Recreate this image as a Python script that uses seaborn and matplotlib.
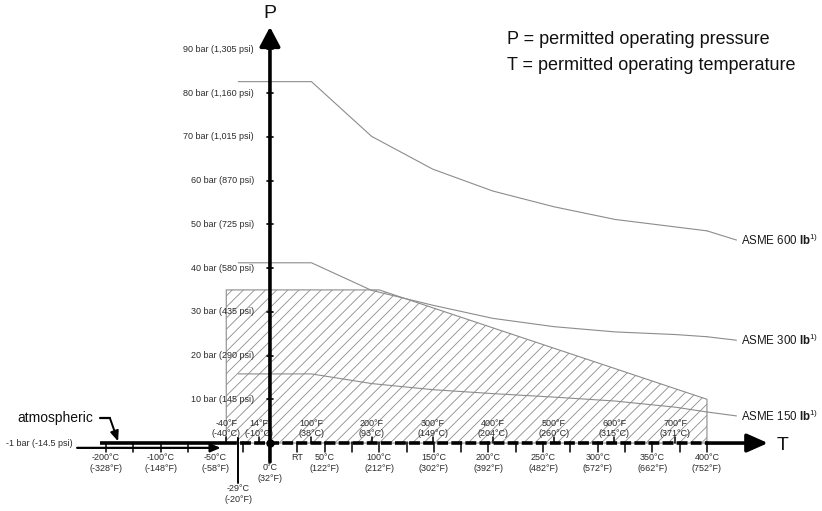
import numpy as np
import pandas as pd
import matplotlib
matplotlib.use("Agg")
import matplotlib.pyplot as plt
import seaborn as sns

# --- data ----------------------------------------------------------------
t_asme = [-29, 38, 93, 149, 204, 260, 316, 371, 400]      # degC
p_600 = [82.6, 82.6, 70.1, 62.6, 57.6, 54.0, 51.1, 49.4, 48.5]  # bar
p_300 = [41.2, 41.2, 34.9, 31.5, 28.5, 26.6, 25.4, 24.8, 24.3]
p_150 = [15.8, 15.8, 13.6, 12.2, 11.3, 10.5, 9.6, 8.2, 7.1]
ratings = ["ASME 600", "ASME 300", "ASME 150"]

# permitted (hatched) range of the device
t_hatch = [-40, 100, 400]
p_hatch = [35, 35, 10]

# pressure axis
p_ticks = [10, 20, 30, 40, 50, 60, 70, 80, 90]
p_labels = ["10 bar (145 psi)", "20 bar (290 psi)", "30 bar (435 psi)",
            "40 bar (580 psi)", "50 bar (725 psi)", "60 bar (870 psi)",
            "70 bar (1,015 psi)", "80 bar (1,160 psi)", "90 bar (1,305 psi)"]

# temperature axis, degC below / degF above
c_ticks = [-200, -100, -50, 50, 100, 150, 200, 250, 300, 350, 400]
c_labels = ["-200°C\n(-328°F)", "-100°C\n(-148°F)", "-50°C\n(-58°F)",
            "50°C\n(122°F)", "100°C\n(212°F)", "150°C\n(302°F)",
            "200°C\n(392°F)", "250°C\n(482°F)", "300°C\n(572°F)",
            "350°C\n(662°F)", "400°C\n(752°F)"]
c_minor = [-25, 25, 75, 125, 175, 225, 275, 325, 375]
c_left_ticks = [-200, -150, -100, -75]
f_ticks = [-40, -10, 38, 93, 149, 204, 260, 315, 371]
f_labels = ["-40°F\n(-40°C)", "14°F\n(-10°C)", "100°F\n(38°C)",
            "200°F\n(93°C)", "300°F\n(149°C)", "400°F\n(204°C)",
            "500°F\n(260°C)", "600°F\n(315°C)", "700°F\n(371°C)"]

df = pd.DataFrame({
    "T": t_asme * 3,
    "P": p_600 + p_300 + p_150,
    "rating": [r for r in ratings for _ in t_asme],
})

# --- style ------------------------------------------------------------------
sns.set_theme(style="white")
plt.rcParams["font.family"] = ["Liberation Sans", "DejaVu Sans"]
plt.rcParams["hatch.linewidth"] = 0.6
plt.rcParams["hatch.color"] = "#8c8c8c"
plt.rcParams["mathtext.fontset"] = "custom"
plt.rcParams["mathtext.rm"] = "Liberation Sans"
plt.rcParams["mathtext.bf"] = "Liberation Sans:bold"
TXT = "#2b2b2b"
GREY = "#8c8c8c"


def fwd(t):
    # the axis is squeezed to half scale below -100 degC
    t = np.asarray(t, dtype=float)
    return np.where(t < -100, -100 + (t + 100) / 2, t)


def inv(u):
    u = np.asarray(u, dtype=float)
    return np.where(u < -100, -100 + 2 * (u + 100), u)


fig = plt.figure(figsize=(8.22, 5.11), dpi=100)
ax = fig.add_axes([0, 0, 1, 1])
ax.set_xscale("function", functions=(fwd, inv))
ax.set_xlim(-394.2, 505.3)
ax.set_ylim(-15.53, 101.26)
ax.axis("off")

# hatched region
ax.fill_between(t_hatch, p_hatch, 0, facecolor="none", edgecolor=GREY,
                hatch="///", lw=0.8, zorder=1)

# rating curves
sns.lineplot(data=df, x="T", y="P", units="rating", estimator=None,
             sort=False, color=GREY, lw=0.8, ax=ax, legend=False, zorder=2)

# curve labels with leaders
label_pos = {"ASME 600": 46.4, "ASME 300": 23.5, "ASME 150": 6.2}
for name, pend in zip(ratings, [p_600[-1], p_300[-1], p_150[-1]]):
    ax.annotate("", xy=(t_asme[-1], pend), xytext=(427, label_pos[name]),
                arrowprops=dict(arrowstyle="-", color=GREY, lw=0.8,
                                shrinkA=0, shrinkB=0))
    ax.text(431, label_pos[name], name + r" $\mathbf{lb}^{1)}$",
            fontsize=8.3, color="#1a1a1a", va="center", ha="left")

# pressure axis
ax.annotate("", xy=(0, 95.1), xytext=(0, -4.3),
            arrowprops=dict(arrowstyle="-|>,head_length=0.85,head_width=0.45",
                            mutation_scale=14, lw=2.6, color="black",
                            shrinkA=0, shrinkB=0), zorder=5)
ax.text(0, 98.2, "P", fontsize=14, ha="center", va="center", color="#111")
for p, lab in zip(p_ticks, p_labels):
    ax.plot([-3, 3], [p, p], color="black", lw=1.2, zorder=5)
    ax.text(-14.6, p, lab, fontsize=6.5, ha="right", va="center", color=TXT)

# temperature axis (0 bar line)
ax.plot([-211, -40], [0, 0], color="black", lw=2.6, solid_capstyle="butt",
        zorder=4)
ax.plot([-40, 400], [0, 0], color="black", lw=2.6, ls=(0, (3, 0.9)),
        zorder=4)
ax.annotate("", xy=(455.8, 0), xytext=(400, 0),
            arrowprops=dict(arrowstyle="-|>,head_length=0.9,head_width=0.4",
                            mutation_scale=14, lw=2.6, color="black",
                            shrinkA=0, shrinkB=0), zorder=5)
ax.text(469, -0.6, "T", fontsize=14, ha="center", va="center", color="#111")
ax.plot([0], [0], "o", color="black", ms=5, zorder=6)

# -1 bar line with its arrow
ax.text(-260.6, -0.2, "-1 bar (-14.5 psi)", fontsize=6.5, ha="right",
        va="center", color=TXT)
ax.annotate("", xy=(-45, -1.1), xytext=(-253, -1.1),
            arrowprops=dict(arrowstyle="-|>,head_length=0.6,head_width=0.25",
                            mutation_scale=10, lw=1.6, color="black",
                            shrinkA=0, shrinkB=0), zorder=4)
for t in c_left_ticks:
    ax.plot([t, t], [0, -2.1], color="black", lw=1.1, zorder=4)

# degC ticks and labels
for t, lab in zip(c_ticks, c_labels):
    if t > -40:
        ax.plot([t, t], [0.2, -2.1], color="black", lw=1.1, zorder=4)
    ax.text(t, -2.3, lab, fontsize=6.5, ha="center", va="top", color=TXT,
            linespacing=1.25)
for t in c_minor:
    ax.plot([t, t], [0.2, -2.1], color="black", lw=1.1, zorder=4)
ax.text(25, -2.3, "RT", fontsize=6.5, ha="center", va="top", color=TXT)
ax.text(0, -4.6, "0°C\n(32°F)", fontsize=6.5, ha="center", va="top",
        color=TXT, linespacing=1.25)
ax.plot([-29, -29], [1.1, -9.1], color="black", lw=1.4, zorder=4)
ax.text(-29, -9.4, "-29°C\n(-20°F)", fontsize=6.5, ha="center", va="top",
        color=TXT, linespacing=1.25)

# degF ticks and labels
for t, lab in zip(f_ticks, f_labels):
    ax.plot([t, t], [0, 1.4], color="black", lw=1.1, zorder=4)
    ax.text(t, 1.1, lab, fontsize=6.5, ha="center", va="bottom", color=TXT,
            linespacing=1.15)

# atmospheric note
ax.text(-363, 5.7, "atmospheric", fontsize=10, ha="left", va="center",
        color="#111")
ax.plot([-211, -193], [5.7, 5.7], color="black", lw=1.6)
ax.annotate("", xy=(-178, 0.4), xytext=(-193, 5.7),
            arrowprops=dict(arrowstyle="-|>,head_length=0.6,head_width=0.25",
                            mutation_scale=10, lw=1.4, color="black",
                            shrinkA=0, shrinkB=0))

# legend text
fig.text(507 / 822, 1 - 39 / 511, "P = permitted operating pressure",
         fontsize=13, ha="left", va="center", color="#111")
fig.text(507 / 822, 1 - 65 / 511, "T = permitted operating temperature",
         fontsize=13, ha="left", va="center", color="#111")

fig.savefig("out.png", dpi=100)
